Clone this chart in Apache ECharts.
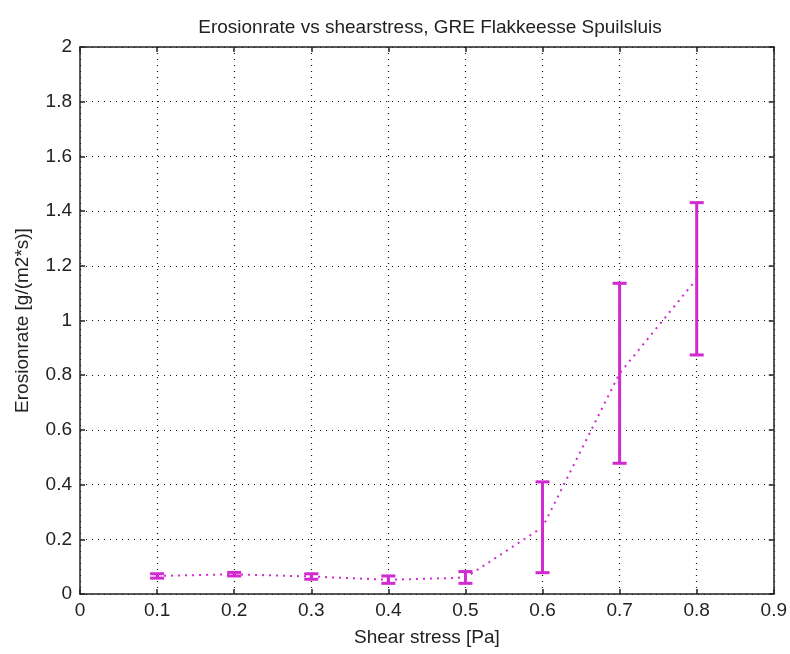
<!DOCTYPE html>
<html><head><meta charset="utf-8">
<script src="https://cdn.jsdelivr.net/npm/echarts@6/dist/echarts.min.js"></script>
<style>html,body{margin:0;padding:0;background:#fff}#c{width:790px;height:654px}</style>
</head><body><div id="c"></div>
<script>
var shear = [0.1, 0.2, 0.3, 0.4, 0.5, 0.6, 0.7, 0.8];
var erosionMean = [0.066, 0.072, 0.064, 0.052, 0.060, 0.244, 0.807, 1.152];
var erosionLow = [0.058, 0.066, 0.054, 0.039, 0.039, 0.078, 0.478, 0.874];
var erosionHigh = [0.074, 0.079, 0.074, 0.066, 0.082, 0.410, 1.136, 1.431];
var xTicks = [0, 0.9, 0.1];
var yTicks = [0, 2, 0.2];

var lineData = shear.map(function (x, i) { return [x, erosionMean[i]]; });
var errData = shear.map(function (x, i) { return [x, erosionLow[i], erosionHigh[i]]; });
var col = '#d02ad0';
var font = 'Liberation Sans, Arial, sans-serif';

var chart = echarts.init(document.getElementById('c'));
var axisBase = {
  type: 'value',
  axisLine: { show: true, onZero: false, lineStyle: { color: '#222', width: 1.5 } },
  axisTick: { show: true, inside: true, length: 5, lineStyle: { color: '#222', width: 1.5 } }
};
function fmt(v) { return String(Math.round(v * 10) / 10); }
chart.setOption({
  animation: false,
  backgroundColor: '#fff',
  title: {
    text: 'Erosionrate vs shearstress, GRE Flakkeesse Spuilsluis',
    left: 425, top: 13, textAlign: 'center',
    textStyle: { fontFamily: font, fontSize: 19, fontWeight: 'normal', color: '#222' }
  },
  grid: { left: 80, right: 15, top: 47, bottom: 60 },
  xAxis: [
    Object.assign({}, axisBase, {
      min: xTicks[0], max: xTicks[1], interval: xTicks[2], position: 'bottom',
      name: 'Shear stress [Pa]', nameLocation: 'middle', nameGap: 34,
      nameTextStyle: { fontFamily: font, fontSize: 19, color: '#222' },
      axisLabel: { fontFamily: font, fontSize: 19, color: '#222', margin: 7, formatter: fmt },
      splitLine: { show: true, lineStyle: { color: '#111', type: [1, 5], width: 1.2 } }
    }),
    Object.assign({}, axisBase, {
      min: xTicks[0], max: xTicks[1], interval: xTicks[2], position: 'top',
      axisLabel: { show: false }, splitLine: { show: false }
    })
  ],
  yAxis: [
    Object.assign({}, axisBase, {
      min: yTicks[0], max: yTicks[1], interval: yTicks[2], position: 'left',
      name: 'Erosionrate [g/(m2*s)]', nameLocation: 'middle', nameGap: 48,
      nameTextStyle: { fontFamily: font, fontSize: 19, color: '#222' },
      axisLabel: { fontFamily: font, fontSize: 19, color: '#222', margin: 8, formatter: fmt },
      splitLine: { show: true, lineStyle: { color: '#111', type: [1, 5], width: 1.2 } }
    }),
    Object.assign({}, axisBase, {
      min: yTicks[0], max: yTicks[1], interval: yTicks[2], position: 'right',
      axisLabel: { show: false }, splitLine: { show: false }
    })
  ],
  series: [
    {
      type: 'line', data: lineData, symbol: 'none', z: 3,
      lineStyle: { color: col, width: 2, type: [2, 5] }
    },
    {
      type: 'custom', data: errData, z: 4,
      renderItem: function (params, api) {
        var lo = api.coord([api.value(0), api.value(1)]);
        var hi = api.coord([api.value(0), api.value(2)]);
        var w = 7;
        var st = { stroke: col, lineWidth: 3 };
        return {
          type: 'group', children: [
            { type: 'line', shape: { x1: lo[0], y1: lo[1], x2: hi[0], y2: hi[1] }, style: st },
            { type: 'line', shape: { x1: lo[0] - w, y1: lo[1], x2: lo[0] + w, y2: lo[1] }, style: st },
            { type: 'line', shape: { x1: hi[0] - w, y1: hi[1], x2: hi[0] + w, y2: hi[1] }, style: st }
          ]
        };
      }
    }
  ]
});
</script></body></html>
